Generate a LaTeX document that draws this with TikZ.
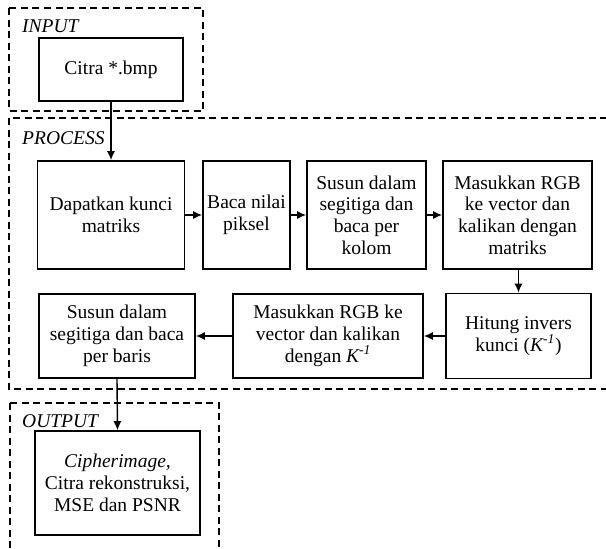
\documentclass[tikz,border=0pt]{standalone}
\usepackage{fontspec}
\setmainfont{Liberation Serif}
\usetikzlibrary{arrows.meta}
\begin{document}
\begin{tikzpicture}[x=1pt,y=-1pt,
  every node/.style={font=\fontsize{19.5}{21.7}\selectfont},
  procbox/.style={draw, line width=1.6pt, inner sep=0pt, align=center},
  group/.style={draw, line width=1.4pt, dash pattern=on 7pt off 4.5pt},
  grouplabel/.style={anchor=base west, inner sep=0pt, font=\fontsize{19.5}{21.7}\selectfont\itshape},
  flow/.style={line width=1.4pt, -{Latex[length=9pt,width=8pt]}}]
\useasboundingbox (0,0) rectangle (606,549);
% groups
\draw[group] (9,8) rectangle (203,111);
\draw[group] (9,118) rectangle (612,389);
\draw[group] (10,403) rectangle (219,560);
\node[grouplabel] (lin) at (22,32) {INPUT};
\node[grouplabel] (lpr) at (22,144) {PROCESS};
\node[grouplabel] (lout) at (22,427) {OUTPUT};
% boxes
\node[procbox, minimum width=144pt, minimum height=63pt] (citra) at (111,69.5) {Citra *.bmp};
\node[procbox, minimum width=147pt, minimum height=108pt] (dapat) at (111,215) {Dapatkan kunci\\matriks};
\node[procbox, minimum width=87pt, minimum height=108pt] (baca) at (246.5,215) {Baca nilai\\piksel};
\node[procbox, minimum width=119pt, minimum height=108pt] (susa) at (366.5,215) {Susun dalam\\segitiga dan\\baca per\\kolom};
\node[procbox, minimum width=149pt, minimum height=108pt] (masa) at (517.5,215) {Masukkan RGB\\ke vector dan\\kalikan dengan\\matriks};
\node[procbox, minimum width=156pt, minimum height=84pt] (susb) at (117,336) {Susun dalam\\segitiga dan baca\\per baris};
\node[procbox, minimum width=190pt, minimum height=84pt] (masb) at (328,336) {Masukkan RGB ke\\vector dan kalikan\\dengan \textit{K\textsuperscript{-1}}};
\node[procbox, minimum width=145pt, minimum height=85pt] (hit) at (518.5,336) {Hitung invers\\kunci (\textit{K\textsuperscript{-1}})};
\node[procbox, minimum width=165pt, minimum height=104pt] (out) at (117.5,483) {\textit{Cipherimage,}\\Citra rekonstruksi,\\MSE dan PSNR};
% connectors
\draw[flow] (citra.south) -- (dapat.north);
\draw[flow] (dapat.east) -- (baca.west);
\draw[flow] (baca.east) -- (susa.west);
\draw[flow] (susa.east) -- (masa.west);
\draw[flow] (masa.south -| hit.north) -- (hit.north);
\draw[flow] (hit.west) -- (masb.east);
\draw[flow] (masb.west) -- (susb.east);
\draw[flow] (susb.south) -- (out.north);
\end{tikzpicture}
\end{document}
